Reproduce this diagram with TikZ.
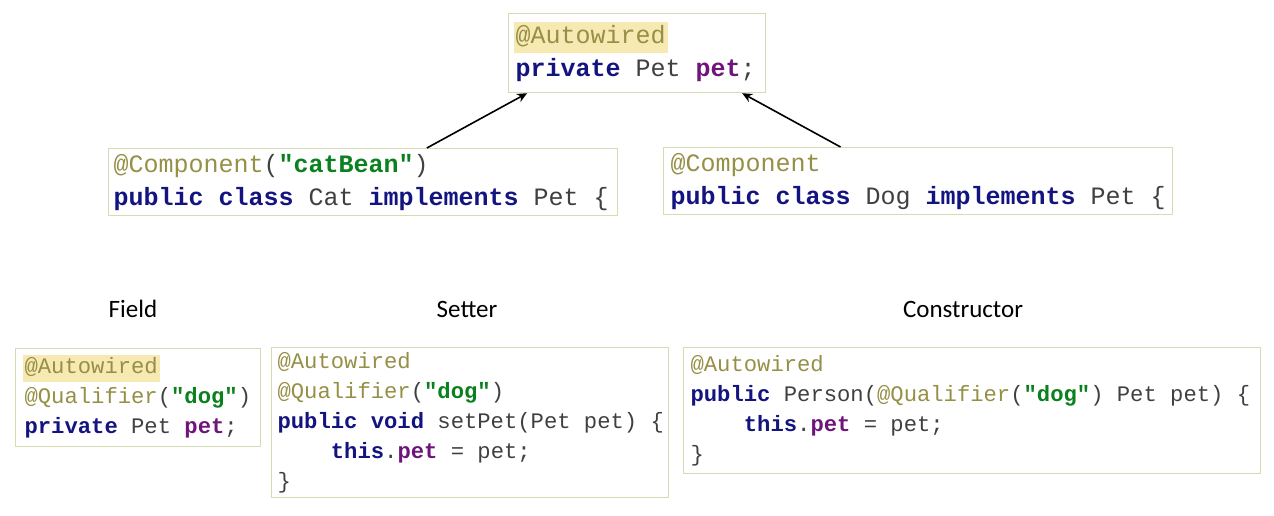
\documentclass[tikz,border=0pt]{standalone}
\usepackage{fontspec}
\usepackage{xcolor}
\usepackage{tikz}
\usetikzlibrary{
    positioning,
    arrows.meta,
    calc
}
\newfontfamily\codefont{Liberation Mono}
\newfontfamily\labelfont{Carlito}
\definecolor{annotOlive}{RGB}{150, 143, 70}
\definecolor{keywordNavy}{RGB}{20, 20, 128}
\definecolor{stringGreen}{RGB}{10, 128, 30}
\definecolor{fieldPurple}{RGB}{110, 20, 122}
\definecolor{plainGray}{RGB}{64, 64, 64}
\definecolor{boxLine}{RGB}{214, 220, 178}
\definecolor{hlYellow}{RGB}{246, 233, 178}

\newcommand{\topcode}{\codefont\fontsize{12.5}{16.5}\selectfont}
\newcommand{\bottomcode}{\codefont\fontsize{11.1}{15}\selectfont}
\newcommand{\annot}[1]{\textcolor{annotOlive}{#1}}
\newcommand{\kwd}[1]{\textcolor{keywordNavy}{\bfseries #1}}
\newcommand{\strg}[1]{\textcolor{stringGreen}{\bfseries #1}}
\newcommand{\fld}[1]{\textcolor{fieldPurple}{\bfseries #1}}
\newlength{\hlwd}
\newcommand{\hlann}[1]{\settowidth{\hlwd}{#1}%
    \makebox[0pt][l]{\hspace{-1pt}\textcolor{hlYellow}{\rule[-0.4em]{\dimexpr\hlwd+2pt\relax}{1.24em}}}\annot{#1}}
% コード行 (等幅の空白のまま)
\newcommand{\codelines}[1]{\spaceskip=0pt\xspaceskip=0pt\relax
    \begin{tabular}{@{}l@{}}#1\end{tabular}}

\begin{document}
\begin{tikzpicture}[x=0.5pt, y=-0.5pt,
    >={Stealth[length=5pt, width=4.5pt]},
    codebox/.style={draw=boxLine, line width=0.6pt, anchor=north west,
        inner xsep=3.5pt, inner ysep=0pt, text=plainGray},
    headlabel/.style={font=\labelfont\fontsize{12.5}{15}\selectfont, text=black}]
    % 画像の大きさ
    \useasboundingbox (0,0) rectangle (1274,515);

    % 上段: 注入先のフィールド
    \node[codebox, text width=121.5pt, minimum height=39.5pt, font=\topcode]
        (autowired) at (508,13) {\codelines{
        \hlann{@Autowired}\\
        \kwd{private} Pet \fld{pet};}};

    % 中段: 実装クラス
    \node[codebox, inner xsep=2.5pt, text width=249.5pt, minimum height=33.5pt, font=\topcode]
        (catbean) at (108,148) {\codelines{
        \annot{@Component}(\strg{"catBean"})\\
        \kwd{public} \kwd{class} Cat \kwd{implements} Pet \{}};
    \node[codebox, text width=247.5pt, minimum height=33.5pt, font=\topcode]
        (dogbean) at (663,147) {\codelines{
        \annot{@Component}\\
        \kwd{public} \kwd{class} Dog \kwd{implements} Pet \{}};

    % 矢印
    \draw[->, thick] ($(catbean.north west)!0.625!(catbean.north east)$)
        -- ($(autowired.south west)!0.074!(autowired.south east)$);
    \draw[->, thick] ($(dogbean.north west)!0.348!(dogbean.north east)$)
        -- ($(autowired.south west)!0.907!(autowired.south east)$);

    % 見出し
    \node[headlabel] (fieldlabel) at (133,309) {Field};
    \node[headlabel] (setterlabel) at (467,309) {Setter};
    \node[headlabel] (ctorlabel) at (963,309) {Constructor};

    % 下段: 三種類の注入
    \node[codebox, inner xsep=4.5pt, text width=113.5pt, minimum height=49pt, font=\bottomcode]
        (field) at (15,348) {\codelines{
        \hlann{@Autowired}\\
        \annot{@Qualifier}(\strg{"dog"})\\
        \kwd{private} Pet \fld{pet};}};
    \node[codebox, inner xsep=3pt, text width=192.5pt, minimum height=74.5pt, font=\bottomcode]
        (setter) at (271,347) {\codelines{
        \annot{@Autowired}\\
        \annot{@Qualifier}(\strg{"dog"})\\
        \kwd{public} \kwd{void} setPet(Pet pet) \{\\
        \phantom{xxxx}\kwd{this}.\fld{pet} = pet;\\
        \}}};
    \node[codebox, text width=281.5pt, minimum height=63pt, font=\bottomcode]
        (ctor) at (683,347) {\codelines{
        \annot{@Autowired}\\
        \kwd{public} Person(\annot{@Qualifier}(\strg{"dog"}) Pet pet) \{\\
        \phantom{xxxx}\kwd{this}.\fld{pet} = pet;\\
        \}}};
\end{tikzpicture}
\end{document}
